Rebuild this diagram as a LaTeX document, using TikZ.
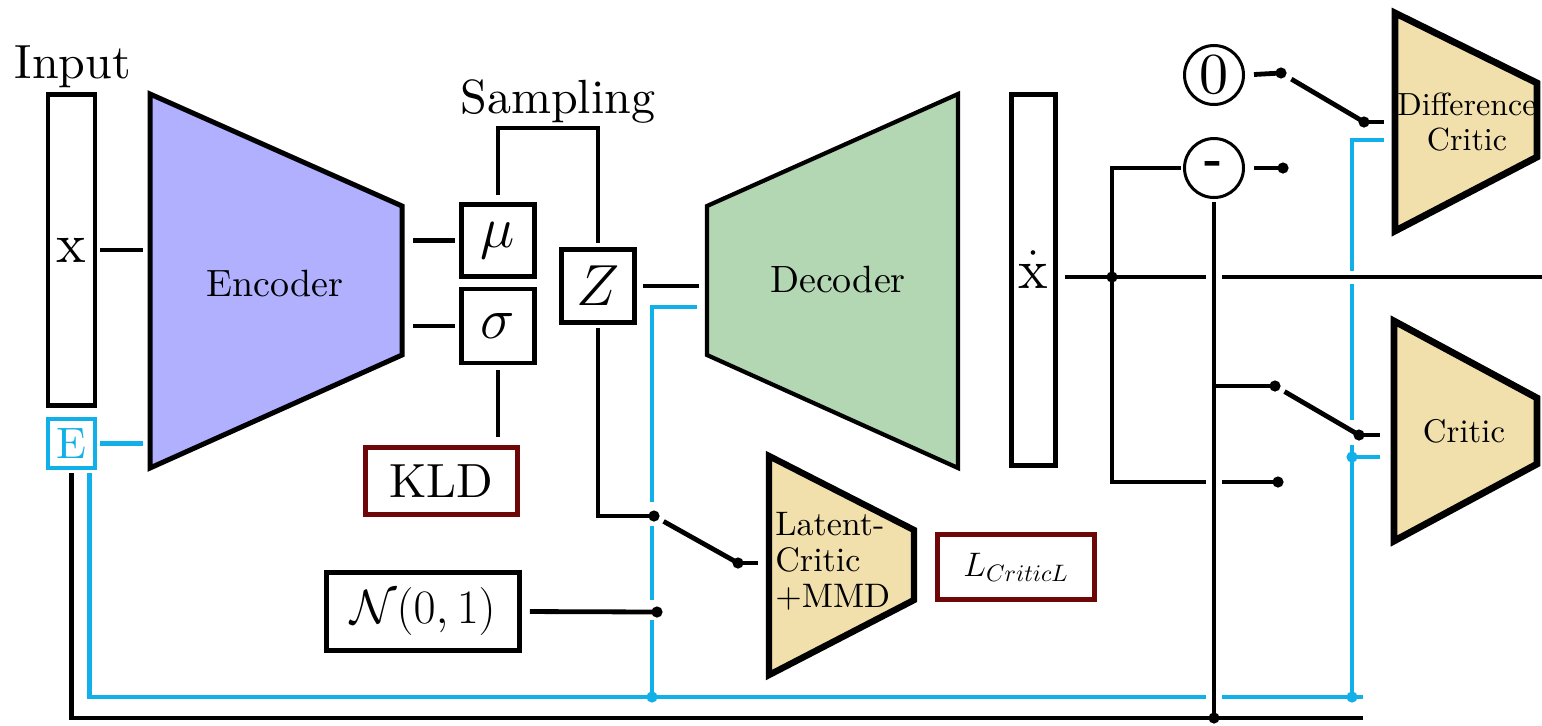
\RequirePackage{fix-cm}
\documentclass[tikz,border=0pt]{standalone}
\usepackage{fontspec}
\setmainfont{lmroman10-regular}[Extension=.otf, BoldFont=lmroman10-bold, ItalicFont=lmroman10-italic]
\definecolor{encfill}{RGB}{176,176,255}
\definecolor{decfill}{RGB}{179,214,179}
\definecolor{crfill}{RGB}{241,224,172}
\definecolor{cyanline}{RGB}{18,176,232}
\definecolor{lossred}{RGB}{110,8,8}
\newcommand\myfs[2]{\fontsize{#1}{#2}\selectfont}
\begin{document}
\begin{tikzpicture}[x=0.5pt, y=-0.5pt,
  cn/.style={line width=2.4pt, shorten <=2pt, shorten >=2pt},
  cnb/.style={cn, draw=cyanline},
  bx/.style={draw, line width=2.4pt, inner sep=0pt, fill=white},
  lossbx/.style={bx, draw=lossred, line width=2.1pt},
  circ/.style={draw, circle, line width=1.5pt, minimum size=29.5pt, inner sep=0pt},
  trap/.style={draw, line width=2.5pt, line join=miter},
  halo/.style={draw=white, line width=8pt, shorten <=2pt},
  jdot/.style={fill=black},
  bdot/.style={fill=cyanline}]
\useasboundingbox (0,0) rectangle (1542,725);

% ---------- trapezoid corners ----------
\coordinate (encTL) at (150,94);  \coordinate (encTR) at (402,206);
\coordinate (encBR) at (402,355); \coordinate (encBL) at (150,468);
\coordinate (encL) at (150,281);  \coordinate (encR) at (402,281);
\coordinate (decTL) at (707,206); \coordinate (decTR) at (958,94);
\coordinate (decBR) at (958,468); \coordinate (decBL) at (707,355);
\coordinate (decL) at (707,281);
\coordinate (lcTL) at (769,456);  \coordinate (lcTR) at (914,530);
\coordinate (lcBR) at (914,600);  \coordinate (lcBL) at (769,675);
\coordinate (lcL) at (769,565);
\coordinate (dcTL) at (1395,13);  \coordinate (dcTR) at (1537,83);
\coordinate (dcBR) at (1537,157); \coordinate (dcBL) at (1395,231);
\coordinate (dcL) at (1395,122);
\coordinate (crTL) at (1394,321); \coordinate (crTR) at (1537,398);
\coordinate (crBR) at (1537,464); \coordinate (crBL) at (1394,541);
\coordinate (crL) at (1394,431);

% ---------- shapes ----------
\draw[trap, fill=encfill] (encTL) -- (encTR) -- (encBR) -- (encBL) -- cycle;
\draw[trap, fill=decfill, line width=2.1pt] (decTL) -- (decTR) -- (decBR) -- (decBL) -- cycle;
\draw[trap, fill=crfill, line width=3.2pt] (lcTL) -- (lcTR) -- (lcBR) -- (lcBL) -- cycle;
\draw[trap, fill=crfill, line width=3.4pt] (dcTL) -- (dcTR) -- (dcBR) -- (dcBL) -- cycle;
\draw[trap, fill=crfill, line width=3.4pt] (crTL) -- (crTR) -- (crBR) -- (crBL) -- cycle;

\node[anchor=base] (enclbl) at (275,296) {\myfs{19}{22}Encoder};
\node[anchor=base] (declbl) at (838,292) {\myfs{19}{22}Decoder};
\node[align=left, anchor=west, inner sep=0pt, font=\myfs{17}{18}] (lclbl) at (775,561) {Latent-\\Critic\\+MMD};
\node[align=center, inner sep=0pt, font=\myfs{16}{17.5}] (dclbl) at (1467,122) {Difference\\Critic};
\node (crlbl) at (1464,431) {\myfs{16.4}{18}Critic};

\node[bx, minimum width=23.5pt, minimum height=155.5pt] (in) at (71.5,250) {\myfs{28}{30}x};
\node[bx, draw=cyanline, text=cyanline, minimum width=23.5pt, minimum height=24.5pt] (E) at (71.5,443.5) {\myfs{22}{24}E};
\node[anchor=base] (inlbl) at (73,78) {\myfs{24}{28}Input};
\node[anchor=base] (samplbl) at (558,113) {\myfs{24}{28}Sampling};
\node[bx, minimum width=36.5pt, minimum height=36pt] (mu) at (498,240.5) {\myfs{29}{32}$\mu$};
\node[bx, minimum width=36.5pt, minimum height=37pt] (sg) at (498,326) {\myfs{29}{32}$\sigma$};
\node[bx, minimum width=36.5pt, minimum height=36.5pt] (Z) at (598,286) {\myfs{29}{32}$Z$};
\node[lossbx, minimum width=76pt, minimum height=33.5pt] (kld) at (441.5,481) {\myfs{24}{28}KLD};
\node[bx, minimum width=96.5pt, minimum height=39pt] (N) at (423,611.5) {\myfs{24}{28}$\mathcal{N}(0,1)$};
\node[lossbx, minimum width=78.5pt, minimum height=32.5pt] (lcl) at (1016,567) {\myfs{17}{20}$L_{CriticL}$};
\node[bx, minimum width=22pt, minimum height=185.5pt] (xd) at (1033.5,280) {\raisebox{-4pt}[0pt][0pt]{\myfs{28}{30}$\dot{\mathrm{x}}$}};
\node[circ] (zero) at (1214,75) {\myfs{29}{30}0};
\node[circ] (minus) at (1214,168) {\myfs{24}{28}\bfseries -};

% ---------- helper coordinates ----------
\coordinate (sampY) at (0,128);
\coordinate (decB) at (707,307);
\coordinate (bx1) at (652,697);
\coordinate (busB) at (0,697);
\coordinate (busBend) at (1363,697);
\coordinate (busK) at (0,718);
\coordinate (busKend) at (1363,718);
\coordinate (swl) at (654,516);
\coordinate (lcin) at (738,563);
\coordinate (nd) at (657,612);
\coordinate (jx) at (1112,277);
\coordinate (xr) at (1546,277);
\coordinate (sw0) at (1281,73);
\coordinate (dcin) at (1364,122);
\coordinate (sw2) at (1283,168);
\coordinate (sw3) at (1278,482);
\coordinate (sw4) at (1275,386);
\coordinate (crin) at (1359,435);
\coordinate (dcb) at (1395,140);
\coordinate (bx2) at (1352,697);
\coordinate (bxc) at (1352,457);

% ---------- blue lines ----------
\draw[cnb, shorten <=1.5pt, shorten >=3.5pt] (E.east) -- (E.east -| encL);
\draw[cnb, shorten <=5pt, shorten >=0pt] (decB) -| (bx1);
\draw[cnb, shorten <=1.5pt, shorten >=0pt] ([xshift=-4pt]E.south east) -- ([xshift=-4pt]E.south east |- busB) -- (busBend);
\draw[cnb, shorten <=5.5pt, shorten >=0pt] (dcb) -| (bx2);
\draw[cnb, shorten <=0pt, shorten >=7pt] (bxc) -- (bxc -| crL);

% white gaps in the blue lines
\fill[white] (644,502) rectangle (660,526);
\fill[white] (644,600) rectangle (660,620);
\fill[white] (1344,271) rectangle (1360,284);
\fill[white] (1344,420) rectangle (1360,445);

% ---------- black lines ----------
\draw[cn, shorten <=1.5pt, shorten >=3.5pt] (in.east) -- (in.east -| encL);
\draw[cn, shorten <=5.5pt, shorten >=2pt] (mu.west -| encR) -- (mu.west);
\draw[cn, shorten <=5.5pt, shorten >=2pt] (sg.west -| encR) -- (sg.west);
\draw[cn, shorten <=3.5pt, shorten >=2pt] (mu.north) -- (mu.north |- sampY) -- (Z.north |- sampY) -- (Z.north);
\draw[cn, shorten <=2.5pt, shorten >=4pt] (sg.south) -- (sg.south |- kld.north);
\draw[cn, shorten <=3pt, shorten >=4pt] (Z.east) -- (Z.east -| decL);
\draw[cn, shorten <=1.5pt, shorten >=0pt] (Z.south) -- (Z.south |- swl) -- (swl);
\draw[cn, shorten <=5.5pt, shorten >=0pt] (swl) -- (lcin);
\draw[cn, shorten <=0pt, shorten >=5.5pt] (lcin) -- (lcin -| lcL);
\draw[cn, shorten <=4pt, shorten >=0pt] (N.east) -- (nd);

\draw[cn, shorten <=3.5pt, shorten >=0pt] (xd.east |- jx) -- (xr);
\draw[cn, shorten <=0pt, shorten >=1pt] (jx) -- (jx |- minus) -- (minus.west);
\draw[cn, shorten <=0pt, shorten >=0pt] (jx) -- (jx |- sw3) -- (sw3);
\draw[cn, shorten <=4.5pt, shorten >=0pt] (minus.east) -- (sw2);
\draw[cn, shorten <=4.5pt, shorten >=0pt] (zero.east) -- (sw0);
\draw[cn, shorten <=6pt, shorten >=0pt] (sw0) -- (dcin);
\draw[cn, shorten <=0pt, shorten >=5.5pt] (dcin) -- (dcin -| dcL);

% vertical from the difference node, crossing other lines
\draw[halo, shorten >=0pt] (minus.south) -- (minus.south |- busK);
\draw[cn, shorten <=1.5pt, shorten >=0pt] (minus.south) -- (minus.south |- busK);
\draw[cn, shorten <=0pt, shorten >=0pt] (minus.south |- sw4) -- (sw4);
\draw[cn, shorten <=5.5pt, shorten >=0pt] (sw4) -- (crin);
\draw[cn, shorten <=0pt, shorten >=7pt] (crin) -- (crin -| crL);
\draw[cn, shorten <=1.5pt, shorten >=0pt] (E.south) -- (E.south |- busK) -- (busKend);

% ---------- junction dots ----------
\foreach \p in {swl,lcin,nd,jx,sw0,dcin,sw2,sw3,sw4,crin}
  \fill[jdot] (\p) circle[radius=2.8pt];
\fill[jdot] (minus.south |- busK) circle[radius=2.8pt];
\foreach \p in {bx1,bx2,bxc}
  \fill[bdot] (\p) circle[radius=2.8pt];
\end{tikzpicture}
\end{document}
